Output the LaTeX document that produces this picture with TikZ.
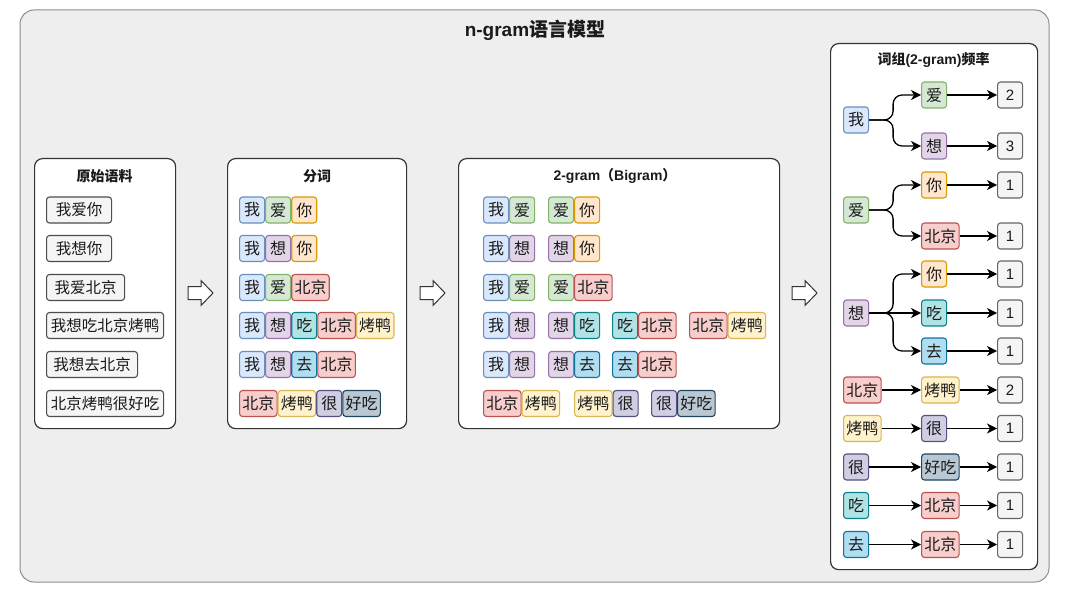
\documentclass[tikz,border=0pt]{standalone}
\usepackage{fontspec}
\newfontfamily\cjk{Noto Sans CJK SC}
\newfontfamily\lat{Liberation Sans}
\usetikzlibrary{arrows.meta}
\definecolor{woF}{HTML}{DAE8FC}\definecolor{woD}{HTML}{6C8EBF}
\definecolor{aiF}{HTML}{D5E8D4}\definecolor{aiD}{HTML}{82B366}
\definecolor{niF}{HTML}{FFE6CC}\definecolor{niD}{HTML}{D79B00}
\definecolor{xiF}{HTML}{E1D5E7}\definecolor{xiD}{HTML}{9673A6}
\definecolor{bjF}{HTML}{F8CECC}\definecolor{bjD}{HTML}{B85450}
\definecolor{chF}{HTML}{B0E3E6}\definecolor{chD}{HTML}{0E8088}
\definecolor{kyF}{HTML}{FFF2CC}\definecolor{kyD}{HTML}{D6B656}
\definecolor{quF}{HTML}{B1DDF0}\definecolor{quD}{HTML}{10739E}
\definecolor{heF}{HTML}{D0CEE2}\definecolor{heD}{HTML}{56517E}
\definecolor{hcF}{HTML}{BAC8D3}\definecolor{hcD}{HTML}{23445D}
\definecolor{grF}{HTML}{F5F5F5}\definecolor{grD}{HTML}{666666}
\definecolor{coD}{HTML}{4D4D4D}
\definecolor{outF}{HTML}{EEEEEE}\definecolor{outD}{HTML}{8C8C8C}
\definecolor{panD}{HTML}{333333}
\definecolor{txt}{HTML}{1A1A1A}
\begin{document}
\begin{tikzpicture}[x=1pt,y=-1pt,
  panel/.style={draw=panD, fill=white, rounded corners=8pt, line width=1.2pt, anchor=north west, inner sep=0pt},
  ptitle/.style={font=\cjk\bfseries\fontsize{14}{14}\selectfont, text=txt},
  tok/.style={draw, rounded corners=3pt, line width=1.1pt, minimum height=26pt, minimum width=25pt, inner sep=0pt, anchor=west, text=txt, font=\cjk\fontsize{16}{16}\selectfont},
  tw/.style={tok, minimum width=37.5pt},
  wo/.style={tok, fill=woF, draw=woD}, ai/.style={tok, fill=aiF, draw=aiD},
  ni/.style={tok, fill=niF, draw=niD}, xi/.style={tok, fill=xiF, draw=xiD},
  bj/.style={tw, fill=bjF, draw=bjD}, ch/.style={tok, fill=chF, draw=chD},
  ky/.style={tw, fill=kyF, draw=kyD}, qu/.style={tok, fill=quF, draw=quD},
  he/.style={tok, fill=heF, draw=heD}, hc/.style={tw, fill=hcF, draw=hcD},
  num/.style={tok, fill=grF, draw=grD, font=\lat\fontsize{15}{15}\selectfont},
  corp/.style={draw=coD, fill=grF, rounded corners=3pt, line width=1.1pt, minimum height=26pt, inner sep=0pt, anchor=west, text=txt, font=\cjk\fontsize{15.5}{15.5}\selectfont},
  conn/.style={line width=1.3pt, -{Stealth[length=10pt,width=10pt,inset=3pt]}},
  bconn/.style={conn, rounded corners=9pt},
  barrow/.style={draw=panD, fill=white, line width=1pt, line join=miter}
]
\useasboundingbox (0,0) rectangle (1066,591);
% outer frame
\draw[fill=outF, draw=outD, line width=1pt, rounded corners=14pt] (20,10) rectangle (1049,582);
\node[font=\cjk\bfseries\fontsize{19}{19}\selectfont, text=txt] (title) at (535,30) {{\lat n-gram}语言模型};

% panels
\node[panel, minimum width=141pt, minimum height=270pt] (p1) at (34,158) {};
\node[panel, minimum width=179pt, minimum height=270pt] (p2) at (227,158) {};
\node[panel, minimum width=321pt, minimum height=270pt] (p3) at (458,158) {};
\node[panel, minimum width=207pt, minimum height=526pt] (p4) at (830,43) {};
\node[ptitle] (t1) at (104.5,176) {原始语料};
\node[ptitle] (t2) at (317,176) {分词};
\node[ptitle] (t3) at (615,176) {{\lat 2-gram}（{\lat Bigram}）};
\node[ptitle] (t4) at (933.5,60) {词组{\lat (2-gram)}频率};

% block arrows
\foreach \x in {188,420,792}{
  \draw[barrow] (\x,286.5) -- (\x+13,286.5) -- (\x+13,280.5) -- (\x+25,293) -- (\x+13,305.5) -- (\x+13,299.5) -- (\x,299.5) -- cycle;
}

% corpus
\node[corp, minimum width=65pt] (c1) at (46,210) {我爱你};
\node[corp, minimum width=65pt] (c2) at (46,248.5) {我想你};
\node[corp, minimum width=78pt] (c3) at (46,287.5) {我爱北京};
\node[corp, minimum width=117pt] (c4) at (46,325.5) {我想吃北京烤鸭};
\node[corp, minimum width=91pt] (c5) at (46,364.5) {我想去北京};
\node[corp, minimum width=117pt] (c6) at (46,403.5) {北京烤鸭很好吃};

% segmentation
\node[wo] (s1a) at (239,210) {我};
\node[ai] (s1b) at (s1a.east) {爱};
\node[ni] (s1c) at (s1b.east) {你};
\node[wo] (s2a) at (239,248.5) {我};
\node[xi] (s2b) at (s2a.east) {想};
\node[ni] (s2c) at (s2b.east) {你};
\node[wo] (s3a) at (239,287.5) {我};
\node[ai] (s3b) at (s3a.east) {爱};
\node[bj] (s3c) at (s3b.east) {北京};
\node[wo] (s4a) at (239,325.5) {我};
\node[xi] (s4b) at (s4a.east) {想};
\node[ch] (s4c) at (s4b.east) {吃};
\node[bj] (s4d) at (s4c.east) {北京};
\node[ky] (s4e) at (s4d.east) {烤鸭};
\node[wo] (s5a) at (239,364.5) {我};
\node[xi] (s5b) at (s5a.east) {想};
\node[qu] (s5c) at (s5b.east) {去};
\node[bj] (s5d) at (s5c.east) {北京};
\node[bj] (s6a) at (239,403.5) {北京};
\node[ky] (s6b) at (s6a.east) {烤鸭};
\node[he] (s6c) at (s6b.east) {很};
\node[hc] (s6d) at (s6c.east) {好吃};

% bigrams
\node[wo] (g11a) at (483,210) {我};  \node[ai] (g11b) at (g11a.east) {爱};
\node[ai] (g12a) at (548,210) {爱};  \node[ni] (g12b) at (g12a.east) {你};
\node[wo] (g21a) at (483,248.5) {我};  \node[xi] (g21b) at (g21a.east) {想};
\node[xi] (g22a) at (548,248.5) {想};  \node[ni] (g22b) at (g22a.east) {你};
\node[wo] (g31a) at (483,287.5) {我};  \node[ai] (g31b) at (g31a.east) {爱};
\node[ai] (g32a) at (548,287.5) {爱};  \node[bj] (g32b) at (g32a.east) {北京};
\node[wo] (g41a) at (483,325.5) {我};  \node[xi] (g41b) at (g41a.east) {想};
\node[xi] (g42a) at (548,325.5) {想};  \node[ch] (g42b) at (g42a.east) {吃};
\node[ch] (g43a) at (612,325.5) {吃};  \node[bj] (g43b) at (g43a.east) {北京};
\node[bj] (g44a) at (689,325.5) {北京};  \node[ky] (g44b) at (g44a.east) {烤鸭};
\node[wo] (g51a) at (483,364.5) {我};  \node[xi] (g51b) at (g51a.east) {想};
\node[xi] (g52a) at (548,364.5) {想};  \node[qu] (g52b) at (g52a.east) {去};
\node[qu] (g53a) at (612,364.5) {去};  \node[bj] (g53b) at (g53a.east) {北京};
\node[bj] (g61a) at (483,403.5) {北京};  \node[ky] (g61b) at (g61a.east) {烤鸭};
\node[ky] (g62a) at (574,403.5) {烤鸭};  \node[he] (g62b) at (g62a.east) {很};
\node[he] (g63a) at (651,403.5) {很};  \node[hc] (g63b) at (g63a.east) {好吃};

% frequency tree
\node[wo] (f1) at (843,120) {我};
\node[ai] (f1a) at (921,95) {爱};   \node[num] (n1a) at (997,95) {2};
\node[xi] (f1b) at (921,146) {想};  \node[num] (n1b) at (997,146) {3};
\node[ai] (f2) at (843,210) {爱};
\node[ni] (f2a) at (921,185) {你};  \node[num] (n2a) at (997,185) {1};
\node[bj] (f2b) at (921,236) {北京}; \node[num] (n2b) at (997,236) {1};
\node[xi] (f3) at (843,313) {想};
\node[ni] (f3a) at (921,274) {你};  \node[num] (n3a) at (997,274) {1};
\node[ch] (f3b) at (921,313) {吃};  \node[num] (n3b) at (997,313) {1};
\node[qu] (f3c) at (921,351) {去};  \node[num] (n3c) at (997,351) {1};
\node[bj] (f4) at (843,390) {北京};
\node[ky] (f4a) at (921,390) {烤鸭}; \node[num] (n4a) at (997,390) {2};
\node[ky] (f5) at (843,428.5) {烤鸭};
\node[he] (f5a) at (921,428.5) {很};  \node[num] (n5a) at (997,428.5) {1};
\node[he] (f6) at (843,467) {很};
\node[hc] (f6a) at (921,467) {好吃}; \node[num] (n6a) at (997,467) {1};
\node[ch] (f7) at (843,505.5) {吃};
\node[bj] (f7a) at (921,505.5) {北京}; \node[num] (n7a) at (997,505.5) {1};
\node[qu] (f8) at (843,544.5) {去};
\node[bj] (f8a) at (921,544.5) {北京}; \node[num] (n8a) at (997,544.5) {1};

\draw[bconn] (f1.east) -- ([xshift=24pt]f1.east) |- (f1a.west);
\draw[bconn] (f1.east) -- ([xshift=24pt]f1.east) |- (f1b.west);
\draw[bconn] (f2.east) -- ([xshift=24pt]f2.east) |- (f2a.west);
\draw[bconn] (f2.east) -- ([xshift=24pt]f2.east) |- (f2b.west);
\draw[bconn] (f3.east) -- ([xshift=24pt]f3.east) |- (f3a.west);
\draw[conn] (f3.east) -- (f3b.west);
\draw[bconn] (f3.east) -- ([xshift=24pt]f3.east) |- (f3c.west);
\draw[conn] (f4.east) -- (f4a.west);
\draw[conn] (f5.east) -- (f5a.west);
\draw[conn] (f6.east) -- (f6a.west);
\draw[conn] (f7.east) -- (f7a.west);
\draw[conn] (f8.east) -- (f8a.west);
\draw[conn] (f1a.east) -- (n1a.west);
\draw[conn] (f1b.east) -- (n1b.west);
\draw[conn] (f2a.east) -- (n2a.west);
\draw[conn] (f2b.east) -- (n2b.west);
\draw[conn] (f3a.east) -- (n3a.west);
\draw[conn] (f3b.east) -- (n3b.west);
\draw[conn] (f3c.east) -- (n3c.west);
\draw[conn] (f4a.east) -- (n4a.west);
\draw[conn] (f5a.east) -- (n5a.west);
\draw[conn] (f6a.east) -- (n6a.west);
\draw[conn] (f7a.east) -- (n7a.west);
\draw[conn] (f8a.east) -- (n8a.west);
\end{tikzpicture}
\end{document}
